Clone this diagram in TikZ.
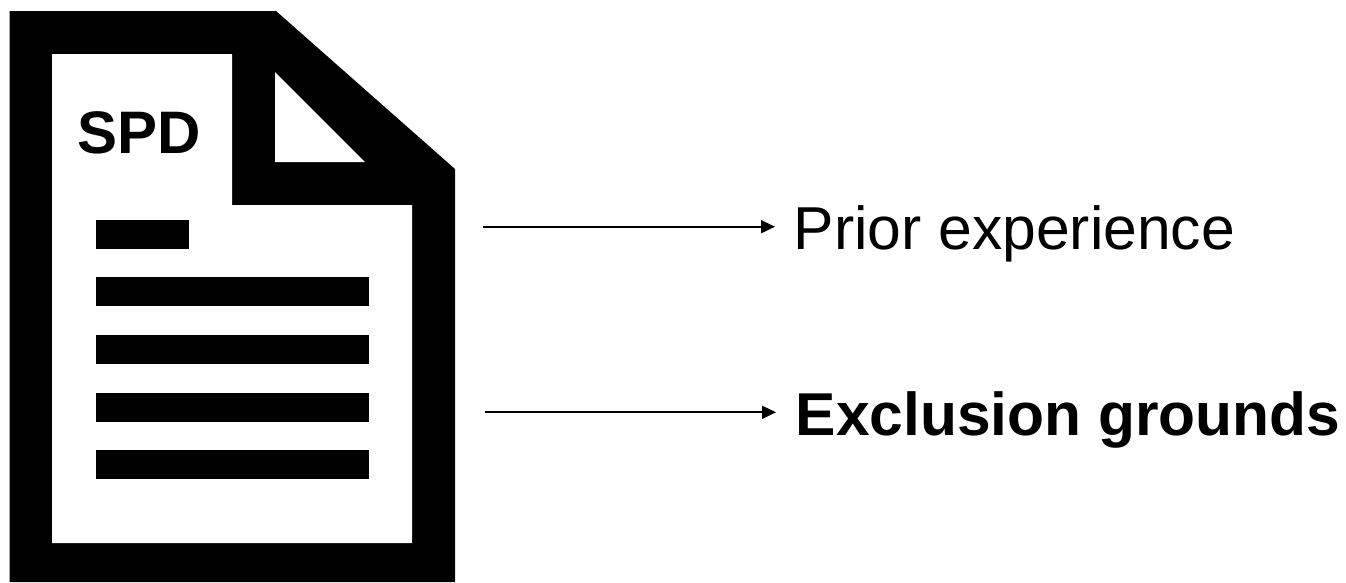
\documentclass[tikz,border=0pt]{standalone}
\usepackage{fontspec}
\setmainfont{Liberation Sans}
\usetikzlibrary{arrows.meta}
\tikzset{
	docbar/.style={fill=black},
	doclabel/.style={inner ysep=0pt, anchor=base west},
}
\begin{document}
\begin{tikzpicture}[x=1pt, y=-1pt, line join=miter, >={Triangle[length=14pt, width=13pt]}]
	\useasboundingbox (0,0) rectangle (1346,582);
	% ==========================================
	\fill (9.5,11) -- (276,11) -- (455,169) -- (455,582) -- (9.5,582) -- cycle;
	\fill[white] (52,54) -- (232,54) -- (232,205) -- (412,205) -- (412,543) -- (52,543) -- cycle;
	\fill[white] (275,72) -- (365,162) -- (275,162) -- cycle;
	\node[font=\fontsize{60}{72}\selectfont\bfseries, inner sep=0pt] (spd) at (139.5,132.5) {SPD};
	% Text lines of the page
	\fill[docbar] (95.5,219.5) rectangle (189,248.5);
	\fill[docbar] (95.5,277) rectangle (369,306);
	\fill[docbar] (95.5,335) rectangle (369,364);
	\fill[docbar] (95.5,392.5) rectangle (369,421.5);
	\fill[docbar] (95.5,449.5) rectangle (369,478.5);
	% ==========================================
	\coordinate (priorstart) at (483,226.7);
	\coordinate (exclstart) at (484.5,412.3);
	\node[doclabel, inner xsep=18.6pt, font=\fontsize{60.6}{72}\selectfont] (prior) at (775,249.2) {Prior experience};
	\node[doclabel, inner xsep=19.6pt, font=\fontsize{60.5}{72}\selectfont\bfseries] (excl) at (776,435) {Exclusion grounds};
	\draw[->, line width=1.7pt] (priorstart) -- (priorstart -| prior.west);
	\draw[->, line width=1.7pt] (exclstart) -- (exclstart -| excl.west);
\end{tikzpicture}
\end{document}
